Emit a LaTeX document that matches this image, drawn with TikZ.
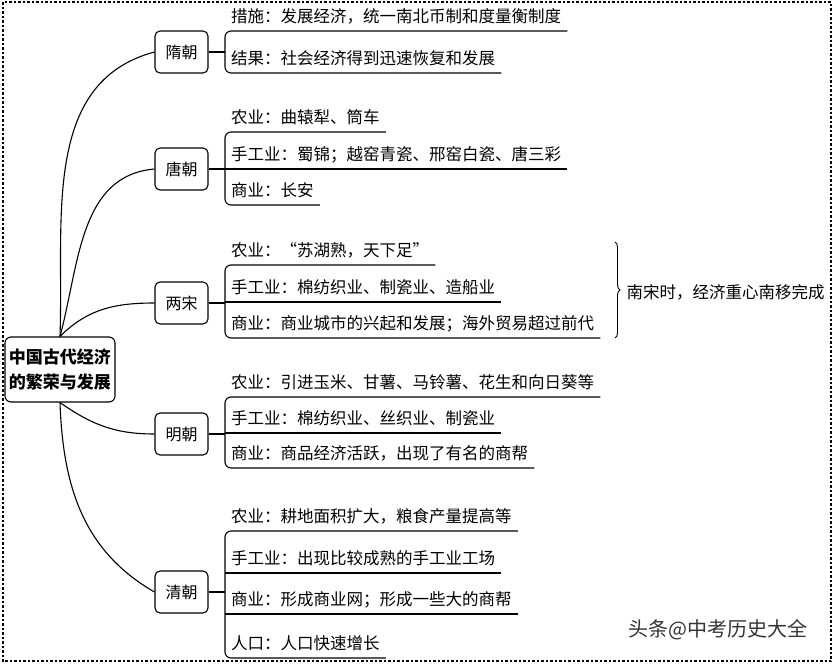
\documentclass[tikz,border=0pt]{standalone}
\usepackage{fontspec}
\setmainfont{Noto Sans CJK SC}
\usepackage{tikz}
\usetikzlibrary{shapes,arrows,positioning,decorations.pathreplacing}

\begin{document}
\begin{tikzpicture}[x=1pt,y=-1pt,
  root/.style={draw,rounded corners=6pt,line width=1.1pt,align=center,
    font=\bfseries\fontsize{17}{25}\selectfont,minimum width=110pt,minimum height=65pt,inner sep=2pt},
  dyn/.style={draw,rounded corners=5pt,line width=1.1pt,minimum width=53pt,
    minimum height=42pt,font=\fontsize{16}{16}\selectfont},
  item/.style={anchor=south west,inner xsep=6pt,inner ysep=0pt,text height=14pt,
    text depth=8pt,font=\fontsize{16.5}{16.5}\selectfont},
  link/.style={line width=1.1pt}]

\useasboundingbox (0,0) rectangle (835,664);
\draw [line width=2.5pt,dash pattern=on 2.5pt off 2pt] (3,2) rectangle (831,661);

\node[root] (root) at (60,369.5) {中国古代经济\\的繁荣与发展};

\node[dyn] (sui) at (181.5,52) {隋朝};
\node[dyn] (tang) at (181.5,169) {唐朝};
\node[dyn] (song) at (181.5,303) {两宋};
\node[dyn] (ming) at (181.5,434) {明朝};
\node[dyn] (qing) at (181.5,592) {清朝};

\node[item] (sui1) at (225,31) {措施：发展经济，统一南北币制和度量衡制度};
\node[item] (sui2) at (225,73) {结果：社会经济得到迅速恢复和发展};

\node[item] (tang1) at (225,132) {农业：曲辕犁、筒车};
\node[item] (tang2) at (225,169) {手工业：蜀锦；越窑青瓷、邢窑白瓷、唐三彩};
\node[item] (tang3) at (225,205) {商业：长安};

\node[item] (song1) at (225,265) {农业：“苏湖熟，天下足”};
\node[item] (song2) at (225,302) {手工业：棉纺织业、制瓷业、造船业};
\node[item] (song3) at (225,338) {商业：商业城市的兴起和发展；海外贸易超过前代};

\node[item] (ming1) at (225,397) {农业：引进玉米、甘薯、马铃薯、花生和向日葵等};
\node[item] (ming2) at (225,433) {手工业：棉纺织业、丝织业、制瓷业};
\node[item] (ming3) at (225,468) {商业：商品经济活跃，出现了有名的商帮};

\node[item] (qing1) at (225,531) {农业：耕地面积扩大，粮食产量提高等};
\node[item] (qing2) at (225,573) {手工业：出现比较成熟的手工业工场};
\node[item] (qing3) at (225,614) {商业：形成商业网；形成一些大的商帮};
\node[item] (qing4) at (225,658) {人口：人口快速增长};

\draw[link] (root.north) to[out=88,in=195] (sui.west);
\draw[link] (root.north) to[out=75,in=185] (tang.west);
\draw[link] (root.north) to[out=45,in=180] (song.west);
\draw[link] (root.south) to[out=-35,in=180] (ming.west);
\draw[link] (root.south) to[out=-88,in=150] (qing.west);

\draw[link,rounded corners=6pt] (sui1.south east) -- (sui1.south west) -- (sui2.south west) -- (sui2.south east);
\draw[link,rounded corners=6pt] (tang1.south east) -- (tang1.south west) -- (tang3.south west) -- (tang3.south east);
\draw[link,rounded corners=6pt] (song1.south east) -- (song1.south west) -- (song3.south west) -- (song3.south east);
\draw[link,rounded corners=6pt] (ming1.south east) -- (ming1.south west) -- (ming3.south west) -- (ming3.south east);
\draw[link,rounded corners=6pt] (qing1.south east) -- (qing1.south west) -- (qing4.south west) -- (qing4.south east);
\foreach \n in {tang2,song2,ming2,qing2,qing3}
  \draw[link] (\n.south west) -- (\n.south east);

\foreach \d/\f in {sui/sui1,tang/tang1,song/song1,ming/ming1,qing/qing1}
  \draw[link] (\d.east) -- (\d.east -| \f.south west);

\coordinate (b1) at (615,242);
\coordinate (b2) at (615,338);
\draw[decorate,decoration={brace,amplitude=5pt},line width=0.9pt] (b1) -- (b2);
\node[anchor=west,font=\fontsize{16.5}{16.5}\selectfont] (nanyi) at (623,292) {南宋时，经济重心南移完成};

\node[font=\fontsize{20}{20}\selectfont,text=black!80] (mark) at (718,630) {头条@中考历史大全};

\end{tikzpicture}
\end{document}
